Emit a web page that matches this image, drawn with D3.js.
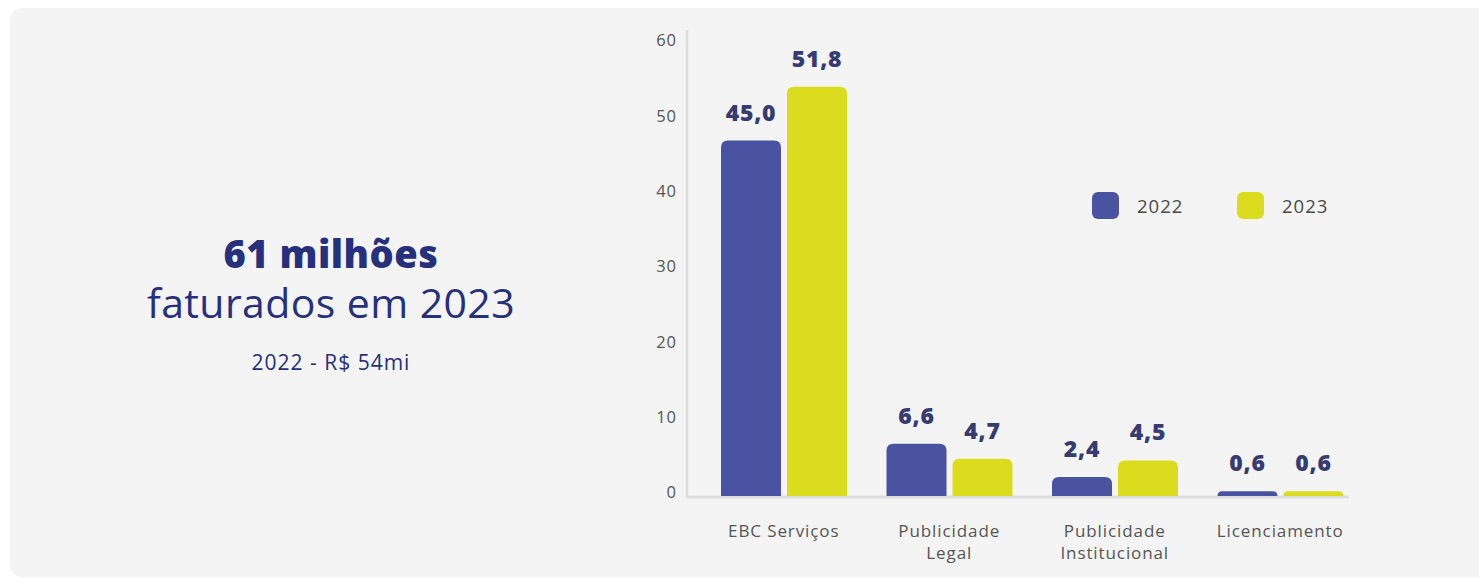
<!DOCTYPE html>
<html>
<head>
<meta charset="utf-8">
<script src="https://cdn.jsdelivr.net/npm/d3@7"></script>
<style>
  html, body { margin: 0; padding: 0; background: #ffffff; }
  svg { display: block; }
  text { font-family: "Open Sans", Lato, sans-serif; }
</style>
</head>
<body>
<svg id="chart" width="1479" height="578"></svg>
<script>
// ---- data ----
const categories = ["EBC Serviços", "Publicidade Legal", "Publicidade Institucional", "Licenciamento"];
const categoryLines = [["EBC Serviços"], ["Publicidade", "Legal"], ["Publicidade", "Institucional"], ["Licenciamento"]];
const years = ["2022", "2023"];
const values2022 = [45.0, 6.6, 2.4, 0.6];
const values2023 = [51.8, 4.7, 4.5, 0.6];
const tickValues = [0, 10, 20, 30, 40, 50, 60];
const headline = "61 milhões";
const subline = "faturados em 2023";
const note = "2022 - R$ 54mi";

const colors = { "2022": "#4953a1", "2023": "#dcdc1e" };
const seriesByYear = { "2022": values2022, "2023": values2023 };
const FONT = "'Open Sans', Lato, sans-serif";

const svg = d3.select("#chart");

// card background
svg.append("rect")
  .attr("x", 10).attr("y", 8)
  .attr("width", 1500).attr("height", 569)
  .attr("rx", 12).attr("ry", 12)
  .attr("fill", "#f4f4f4");

// left text block
const textCx = 331;
svg.append("text").attr("x", textCx).attr("y", 268)
  .attr("text-anchor", "middle").attr("font-size", 38).attr("font-weight", 800)
  .attr("font-family", "Lato, 'Open Sans', sans-serif")
  .attr("letter-spacing", 0.5)
  .attr("fill", "#27307c").text(headline);
svg.append("text").attr("x", textCx).attr("y", 318)
  .attr("text-anchor", "middle").attr("font-size", 41).attr("font-weight", 400)
  .attr("letter-spacing", 0.4)
  .attr("fill", "#27307c").text(subline);
svg.append("text").attr("x", textCx).attr("y", 370)
  .attr("text-anchor", "middle").attr("font-size", 21).attr("font-weight", 400)
  .attr("letter-spacing", 1)
  .attr("fill", "#27307c").text(note);

// scales
const x = d3.scaleBand().domain(categories).range([701, 1363]).padding(0);
const xSub = d3.scaleBand().domain(years).range([20, 146]).paddingInner(6 / 66).paddingOuter(0);
const y = d3.scaleLinear().domain([0, 60]).range([496, 22]);       // bars
const yTicks = d3.scaleLinear().domain([0, 60]).range([492, 40]);  // tick labels

// y axis (labels only)
const yAxis = d3.axisLeft(yTicks).tickValues(tickValues).tickSize(0).tickPadding(0);
const gy = svg.append("g").attr("transform", "translate(677,0)").call(yAxis);
gy.select(".domain").remove();
gy.selectAll("text")
  .attr("font-size", 16.5).attr("fill", "#555555")
  .attr("font-family", FONT)
  .attr("letter-spacing", 1)
  .attr("dy", "0.35em");

// axis lines
svg.append("line").attr("x1", 687).attr("x2", 687).attr("y1", 30).attr("y2", 497)
  .attr("stroke", "#dcdcdc").attr("stroke-width", 2.5);
svg.append("line").attr("x1", 686).attr("x2", 1349).attr("y1", 497).attr("y2", 497)
  .attr("stroke", "#dcdcdc").attr("stroke-width", 2.5);

// bars with rounded top corners
function topRounded(x0, y0, w, h, r) {
  r = Math.min(r, h, w / 2);
  return `M${x0},${y0 + h}V${y0 + r}Q${x0},${y0} ${x0 + r},${y0}H${x0 + w - r}Q${x0 + w},${y0} ${x0 + w},${y0 + r}V${y0 + h}Z`;
}

const rows = [];
categories.forEach((c, i) => {
  years.forEach(yr => rows.push({ cat: c, year: yr, value: seriesByYear[yr][i] }));
});

const groups = svg.append("g");
groups.selectAll("path.bar").data(rows).join("path")
  .attr("class", "bar")
  .attr("fill", d => colors[d.year])
  .attr("d", d => {
    const x0 = x(d.cat) + xSub(d.year);
    const y0 = y(d.value);
    return topRounded(x0, y0, xSub.bandwidth(), y(0) - y0, 7);
  });

// value labels
const fmt = v => v.toFixed(1).replace(".", ",");
groups.selectAll("text.val").data(rows).join("text")
  .attr("class", "val")
  .attr("x", d => x(d.cat) + xSub(d.year) + xSub.bandwidth() / 2)
  .attr("y", d => y(d.value) - 20)
  .attr("text-anchor", "middle")
  .attr("font-size", 23).attr("font-weight", 800)
  .attr("font-family", "Lato, 'Open Sans', sans-serif")
  .attr("letter-spacing", 0.8)
  .attr("fill", "#363b72")
  .text(d => fmt(d.value));

// x labels
const xl = svg.append("g");
categories.forEach((c, i) => {
  const t = xl.append("text")
    .attr("x", x(c) + x.bandwidth() / 2)
    .attr("y", 537)
    .attr("text-anchor", "middle")
    .attr("font-size", 17).attr("fill", "#555555")
    .attr("letter-spacing", 0.9);
  categoryLines[i].forEach((ln, j) => {
    t.append("tspan").attr("x", x(c) + x.bandwidth() / 2).attr("dy", j === 0 ? 0 : 22).text(ln);
  });
});

// legend
const legend = svg.append("g");
const legendX = d3.scaleOrdinal().domain(years).range([1092, 1237]);
years.forEach(yr => {
  legend.append("rect")
    .attr("x", legendX(yr)).attr("y", 192)
    .attr("width", 27).attr("height", 27).attr("rx", 6)
    .attr("fill", colors[yr]);
  legend.append("text")
    .attr("x", legendX(yr) + 45).attr("y", 213)
    .attr("font-size", 18.5).attr("fill", "#4a4a4a")
    .attr("letter-spacing", 1)
    .text(yr);
});
</script>
</body>
</html>
